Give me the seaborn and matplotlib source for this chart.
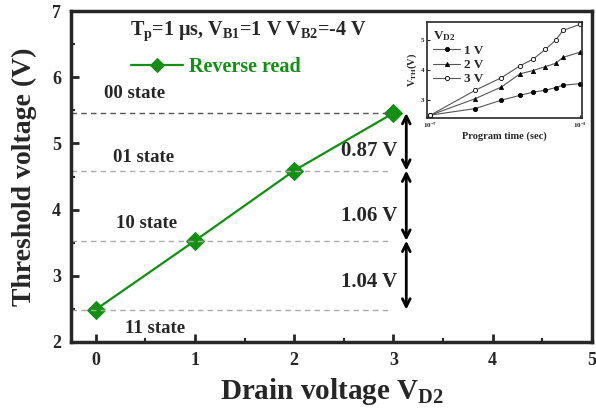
import matplotlib
matplotlib.use('Agg')
import matplotlib.pyplot as plt
import seaborn as sns
import numpy as np
import pandas as pd

# main data
drain_v = [0, 1, 2, 3]
vth = [2.49, 3.53, 4.59, 5.46]
state_names = ['11 state', '10 state', '01 state', '00 state']
gaps = ['1.04 V', '1.06 V', '0.87 V']

# inset data (program time in log10 sec)
log_t = [-7.0, -5.8, -5.1, -4.6, -4.25, -3.92, -3.65, -3.45, -3.0]
vth_1v = [2.5, 2.72, 3.0, 3.16, 3.27, 3.33, 3.42, 3.5, 3.55]
vth_2v = [2.5, 3.05, 3.44, 3.88, 3.99, 4.12, 4.23, 4.43, 4.6]
vth_3v = [2.5, 3.33, 3.75, 4.15, 4.37, 4.7, 5.0, 5.33, 5.53]

sns.set_style('ticks')
plt.rcParams['font.family'] = ['Liberation Serif', 'DejaVu Serif']
plt.rcParams['font.weight'] = 'bold'
plt.rcParams['mathtext.fontset'] = 'custom'
plt.rcParams['mathtext.rm'] = 'Liberation Serif:bold'
plt.rcParams['mathtext.it'] = 'Liberation Serif:bold'
plt.rcParams['mathtext.bf'] = 'Liberation Serif:bold'

fig = plt.figure(figsize=(5.96, 4.13), dpi=100)
ax = fig.add_axes([0.119, 0.172, 0.874, 0.801])

green = '#139013'
df = pd.DataFrame({'x': drain_v, 'y': vth})
sns.lineplot(data=df, x='x', y='y', ax=ax, color=green, marker='D', markersize=9.5,
             markeredgecolor=green, lw=1.6, label='Reverse read')

# state levels
for i, v in enumerate(vth):
    c = '#555555' if i == 3 else '#aaaaaa'
    ax.hlines(v, -0.25, 2.97, colors=c, linestyles=(0, (4, 3)), lw=1)

state_pos = [(0.3, 2.2), (0.2, 3.79), (0.17, 4.79), (0.08, 5.76)]
for name, (sx, sy) in zip(state_names, state_pos):
    ax.text(sx, sy, name, fontsize=13.5, fontweight='bold', va='center', ha='left')

# arrows between levels
arrow_x = 3.13
for i in range(3):
    ax.annotate('', xy=(arrow_x, vth[i]), xytext=(arrow_x, vth[i + 1]),
                arrowprops=dict(arrowstyle='<->', lw=2, color='black',
                                mutation_scale=14, shrinkA=0, shrinkB=0))
gap_y = [2.9, 3.91, 4.89]
for g, gy in zip(gaps, gap_y):
    ax.text(3.04, gy, g, fontsize=15, fontweight='bold', va='center', ha='right')

ax.text(0.35, 6.7, r'T$_\mathrm{p}$=1 μs, V$_\mathrm{B1}$=1 V V$_\mathrm{B2}$=-4 V',
        fontsize=14.5, fontweight='bold', va='center', ha='left')

leg = ax.legend(loc='upper left', bbox_to_anchor=(0.1, 0.885), frameon=False,
                handlelength=2.6, prop={'weight': 'bold', 'size': 14.5}, labelcolor=green,
                borderaxespad=0, handletextpad=0.3, markerscale=0.8)

ax.set_xlim(-0.25, 5)
ax.set_ylim(2, 7)
ax.set_xticks([0, 1, 2, 3, 4, 5])
ax.set_xticks(np.arange(0.5, 5, 1), minor=True)
ax.set_yticks([2, 3, 4, 5, 6, 7])
ax.set_yticks(np.arange(2.5, 7, 1), minor=True)
ax.tick_params(direction='in', which='major', length=6, width=2, labelsize=13, pad=7)
ax.tick_params(direction='in', which='minor', length=3, width=1.5)
for lab in ax.get_xticklabels() + ax.get_yticklabels():
    lab.set_fontweight('bold')
for s in ax.spines.values():
    s.set_linewidth(2.5)
ax.set_xlabel(r'Drain voltage V$_\mathrm{D2}$', fontsize=21, fontweight='bold', labelpad=5)
ax.set_ylabel('Threshold voltage (V)', fontsize=20, fontweight='bold', labelpad=11)

# inset
ins = fig.add_axes([0.716, 0.714, 0.26, 0.232])
t = np.power(10.0, log_t)
for vals, lab, mk, mfc in [(vth_1v, '1 V', 'o', 'black'), (vth_2v, '2 V', '^', 'black'),
                           (vth_3v, '3 V', 'o', 'white')]:
    sns.lineplot(x=t, y=vals, ax=ins, color='#555555', lw=0.8, marker=mk, markersize=3,
                 markerfacecolor=mfc, markeredgecolor='black', markeredgewidth=0.6, label=lab)
ins.set_xscale('log')
ins.set_xlim(10 ** -7.1, 10 ** -2.95)
ins.set_ylim(2.4, 5.6)
ins.set_xticks([1e-7, 1e-3])
ins.set_xticks([], minor=True)
ins.set_xticklabels([r'10$^{-7}$', r'10$^{-3}$'])
ins.set_yticks([3, 4, 5])
ins.tick_params(direction='in', length=2, width=0.8, labelsize=5, pad=2)
for s in ins.spines.values():
    s.set_linewidth(1.2)
ins.set_xlabel('Program time (sec)', fontsize=7.5, fontweight='bold', labelpad=1)
ins.set_ylabel(r'V$_\mathrm{TH}$(V)', fontsize=7.5, fontweight='bold', labelpad=1)
ins.legend(title=r'V$_\mathrm{D2}$', loc='upper left', frameon=False, fontsize=9.5,
           title_fontsize=9.5, handlelength=2, borderaxespad=0.1, labelspacing=0.15,
           handletextpad=0.3)
ins.get_legend()._legend_box.align = 'left'

fig.savefig('out.png', dpi=100)
